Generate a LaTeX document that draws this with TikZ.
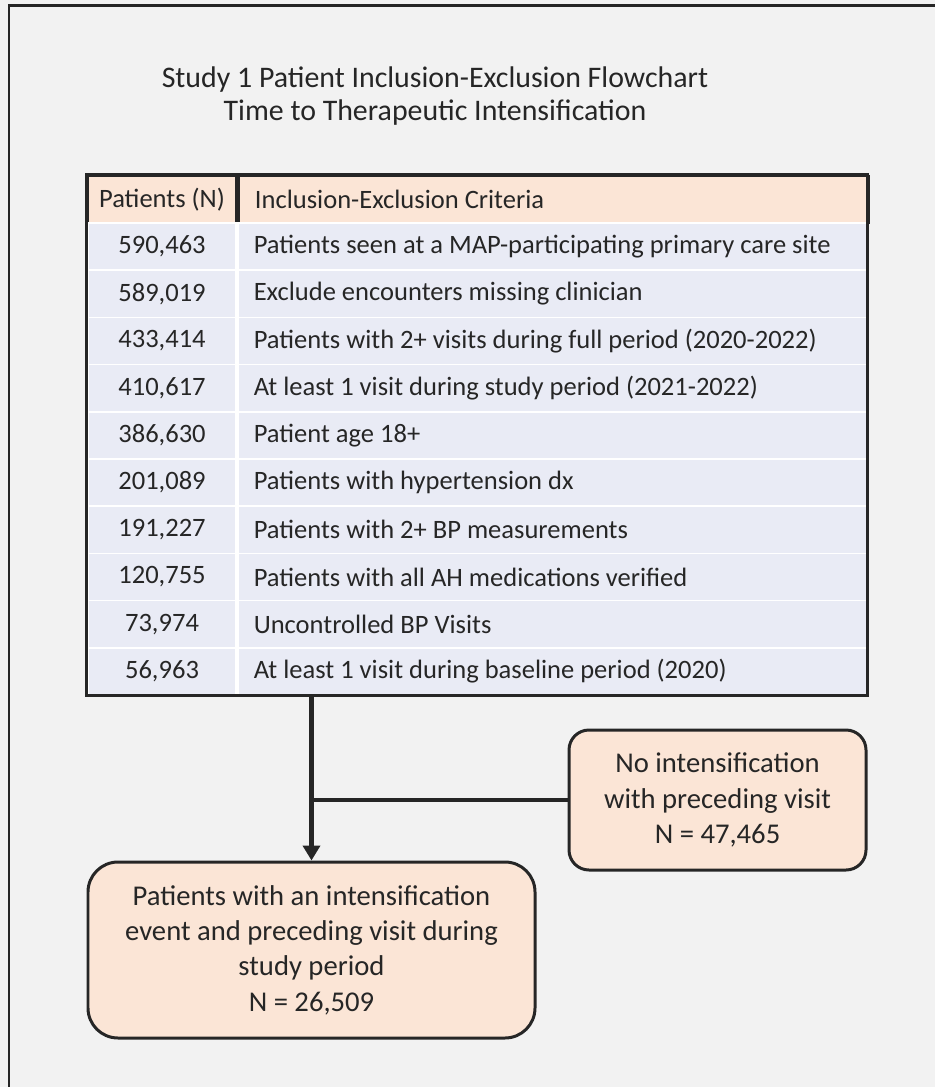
\documentclass[tikz,border=0pt]{standalone}
\usepackage{fontspec}
\setmainfont{Carlito}
\usepackage{xcolor}
\usepackage{tikz}
\usetikzlibrary{positioning, arrows.meta}
\definecolor{bgGray}{HTML}{F2F2F2}
\definecolor{peach}{HTML}{FBE5D6}
\definecolor{lavender}{HTML}{E9EBF5}
\definecolor{darkline}{HTML}{262626}
\tikzstyle{flowline} = [line width=2.3pt, draw=darkline]
\tikzstyle{flowarrow} = [flowline, -{Triangle[length=3mm,width=3.4mm]}]
\tikzstyle{hdrcell} = [rectangle, fill=peach, draw=darkline, line width=1.7pt, minimum height=9.4mm, inner ysep=0pt, text=darkline, font=\fontsize{15.1}{18}\selectfont]
\tikzstyle{numcell} = [rectangle, fill=lavender, draw=white, line width=1pt, minimum width=29.6mm, minimum height=9.44mm, inner sep=0pt, text=darkline, font=\fontsize{15.1}{18}\selectfont]
\tikzstyle{critcell} = [numcell, minimum width=0pt, text width=119.4mm, inner xsep=3.2mm, align=flush left]
\tikzstyle{countbox} = [rectangle, rounded corners=4mm, fill=peach, draw=darkline, line width=1.7pt, align=center, text=darkline, font=\fontsize{16.3}{20.1}\selectfont]

\begin{document}
\begin{tikzpicture}[x=0.2mm, y=-0.2mm]

% Page
\fill[bgGray] (0,0) rectangle (935,1087);
\useasboundingbox (0,0) rectangle (935,1087);
\draw[darkline, line width=1.7pt] (9,1087) |- (935,5.5);

% Title
\node (title) [align=center, text=darkline, font=\fontsize{17}{18.4}\selectfont] at (435,96)
  {Study 1 Patient Inclusion-Exclusion Flowchart\\Time to Therapeutic Intensification};

% Table header
\node (hdrnum) [hdrcell, minimum width=29.6mm, inner xsep=0pt] at (162,199.5) {Patients (N)};
\node (hdrcrit) [hdrcell, right=0pt of hdrnum, text width=119.4mm, inner xsep=3.2mm, align=flush left] {Inclusion-Exclusion Criteria};

% Table rows
\foreach \n/\t [count=\i] in {
  590{,}463/Patients seen at a MAP-participating primary care site,
  589{,}019/Exclude encounters missing clinician,
  433{,}414/Patients with 2+ visits during full period (2020-2022),
  410{,}617/At least 1 visit during study period (2021-2022),
  386{,}630/Patient age 18+,
  201{,}089/Patients with hypertension dx,
  191{,}227/Patients with 2+ BP measurements,
  120{,}755/Patients with all AH medications verified,
  73{,}974/Uncontrolled BP Visits,
  56{,}963/At least 1 visit during baseline period (2020)} {
  \node (num\i) [numcell] at (162,{223+47.2*(\i-0.5)}) {\n};
  \node (crit\i) [critcell, right=0pt of num\i] {\t};
}
\draw[darkline, line width=1.7pt] (hdrnum.north west) rectangle (crit10.south east);

% Outcome boxes
\node (noint) [countbox, minimum width=59.4mm, minimum height=28mm] at (717.5,800)
  {No intensification\\with preceding visit\\N = 47,465};
\node (intens) [countbox, rounded corners=6mm, minimum width=89.4mm, minimum height=35.2mm] at (311.5,950)
  {Patients with an intensification\\event and preceding visit during\\study period\\N = 26,509};

% Connectors
\draw [flowarrow] (intens.north |- num10.south) -- (intens.north);
\draw [flowline] (noint.west) -- (noint.west -| intens.north);

\end{tikzpicture}
\end{document}
